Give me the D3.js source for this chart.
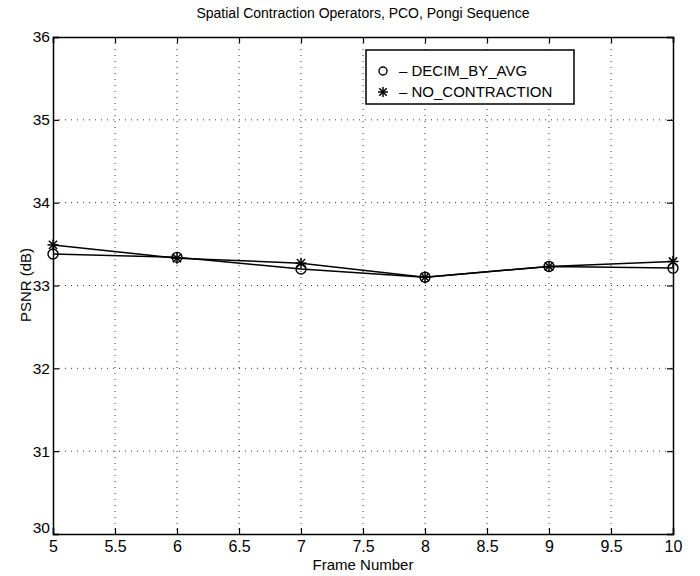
<!DOCTYPE html>
<html>
<head>
<meta charset="utf-8">
<script src="https://cdn.jsdelivr.net/npm/d3@7"></script>
<style>
  body { margin: 0; background: #fff; }
  svg { display: block; font-family: "Liberation Sans", Arial, sans-serif; }
</style>
</head>
<body>
<script>
// data
const frames = [5, 6, 7, 8, 9, 10];
const decimByAvg = [33.38, 33.34, 33.20, 33.10, 33.23, 33.21];
const noContraction = [33.49, 33.33, 33.27, 33.10, 33.23, 33.29];
const xTicks = [5, 5.5, 6, 6.5, 7, 7.5, 8, 8.5, 9, 9.5, 10];
const yTicks = [30, 31, 32, 33, 34, 35, 36];
const seriesNames = ["DECIM_BY_AVG", "NO_CONTRACTION"];

const W = 700, H = 576;
let margin = {top: 37, right: 27, bottom: 42, left: 53},
  width = W - margin.left - margin.right,
  height = H - margin.top - margin.bottom;

let svg = d3.select("body").append("svg")
  .attr("width", W)
  .attr("height", H);

let g = svg.append("g")
  .attr("transform", "translate(" + margin.left + "," + margin.top + ")");

let x = d3.scaleLinear().domain([5, 10]).range([0, width]);
let y = d3.scaleLinear().domain([30, 36]).range([height, 0]);

// dotted grid
g.selectAll(".gx")
  .data(xTicks.slice(1, -1))
  .enter().append("line")
  .attr("x1", d => x(d)).attr("x2", d => x(d))
  .attr("y1", 0).attr("y2", height)
  .attr("stroke", "#000").attr("stroke-width", 0.8)
  .attr("stroke-dasharray", "1,5");
g.selectAll(".gy")
  .data(yTicks.slice(1, -1))
  .enter().append("line")
  .attr("y1", d => y(d)).attr("y2", d => y(d))
  .attr("x1", 0).attr("x2", width)
  .attr("stroke", "#000").attr("stroke-width", 0.8)
  .attr("stroke-dasharray", "1,5");

// axes (ticks pointing inwards, on all four sides)
let xb = g.append("g").attr("transform", "translate(0," + height + ")")
  .call(d3.axisBottom(x).tickValues(xTicks).tickSize(-6).tickPadding(4).tickFormat(d3.format("")));
let xt = g.append("g")
  .call(d3.axisTop(x).tickValues(xTicks).tickSize(-6).tickFormat(""));
let yl = g.append("g")
  .call(d3.axisLeft(y).tickValues(yTicks).tickSize(-6).tickPadding(3).tickFormat(d3.format("")));
let yr = g.append("g").attr("transform", "translate(" + width + ",0)")
  .call(d3.axisRight(y).tickValues(yTicks).tickSize(-6).tickFormat(""));

[xb, xt, yl, yr].forEach(a => {
  a.select(".domain").attr("stroke", "#000").attr("stroke-width", 1.5);
  a.selectAll(".tick line").attr("stroke", "#000").attr("stroke-width", 1.2);
  a.selectAll("text").attr("fill", "#000").style("font-size", "16px")
    .style("font-family", "'Liberation Sans', Arial, sans-serif");
});
yl.selectAll("text").style("font-size", "15.5px");
xb.selectAll("text").attr("dy", "0.9em");
yl.selectAll("text").attr("dy", "0.32em");
yl.selectAll(".tick").filter(d => d === 30).select("text").attr("dy", "-0.1em");

// lines
let line = d3.line().x((d, i) => x(frames[i])).y(d => y(d));
g.append("path").datum(decimByAvg)
  .attr("d", line).attr("fill", "none")
  .attr("stroke", "#000").attr("stroke-width", 1.5);
g.append("path").datum(noContraction)
  .attr("d", line).attr("fill", "none")
  .attr("stroke", "#000").attr("stroke-width", 1.5);

function star(sel, cx, cy, r) {
  let s = sel.append("g").attr("transform", "translate(" + cx + "," + cy + ")")
    .attr("stroke", "#000").attr("stroke-width", 1.5);
  [[-r, 0, r, 0], [0, -r, 0, r], [-r * 0.75, -r * 0.75, r * 0.75, r * 0.75], [-r * 0.75, r * 0.75, r * 0.75, -r * 0.75]]
    .forEach(l => s.append("line").attr("x1", l[0]).attr("y1", l[1]).attr("x2", l[2]).attr("y2", l[3]));
}

// markers
g.selectAll(".circ")
  .data(decimByAvg)
  .enter().append("circle")
  .attr("cx", (d, i) => x(frames[i]))
  .attr("cy", d => y(d))
  .attr("r", 5)
  .attr("fill", "none")
  .attr("stroke", "#000").attr("stroke-width", 1.4);
noContraction.forEach((d, i) => star(g, x(frames[i]), y(d), 5.5));

// legend
let lg = g.append("g").attr("transform", "translate(" + (366 - margin.left) + "," + (50 - margin.top) + ")");
lg.append("rect").attr("width", 208).attr("height", 54)
  .attr("fill", "#fff").attr("stroke", "#000").attr("stroke-width", 1.5);
lg.append("circle").attr("cx", 17).attr("cy", 21).attr("r", 4)
  .attr("fill", "none").attr("stroke", "#000").attr("stroke-width", 1.4);
star(lg, 17, 42, 5);
seriesNames.forEach((n, i) => {
  lg.append("text").attr("x", 33).attr("y", 21 + i * 21).attr("dy", "0.35em")
    .style("font-size", "15px").text("\u2013  " + n);
});

// titles
svg.append("text").attr("x", margin.left + width / 2).attr("y", 18)
  .attr("text-anchor", "middle").style("font-size", "14px")
  .text("Spatial Contraction Operators, PCO, Pongi Sequence");
svg.append("text").attr("x", margin.left + width / 2).attr("y", 570)
  .attr("text-anchor", "middle").style("font-size", "15px")
  .text("Frame Number");
svg.append("text")
  .attr("transform", "translate(31,285) rotate(-90)")
  .attr("text-anchor", "middle").style("font-size", "15px")
  .text("PSNR (dB)");
</script>
</body>
</html>
